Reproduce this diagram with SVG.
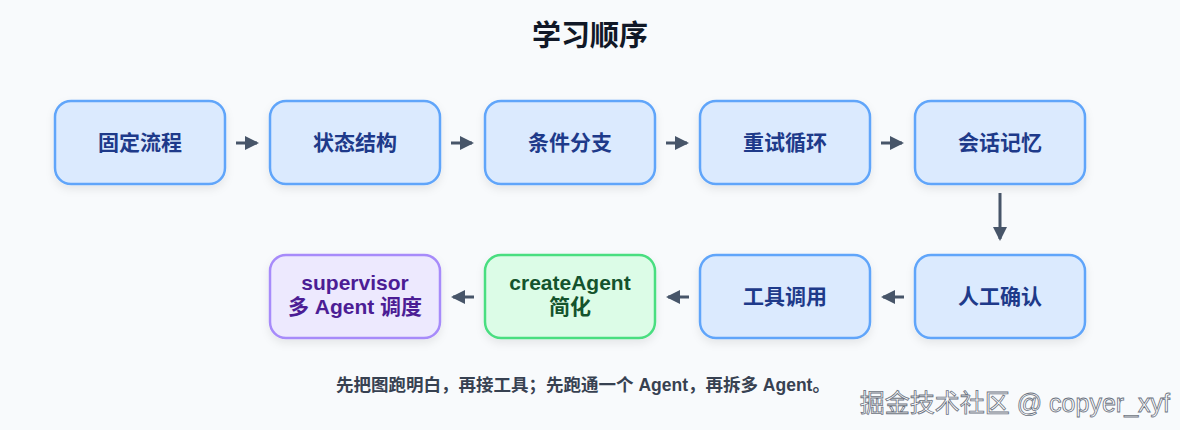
<svg xmlns="http://www.w3.org/2000/svg" width="1180" height="430" viewBox="0 0 1180 430">
<defs>
<style>
.t{font-family:"Liberation Sans","Noto Sans CJK SC",sans-serif;font-weight:bold;text-anchor:middle}
.b rect{fill:#dbeafe;stroke:#60a5fa;stroke-width:2.5}
.b text{fill:#1e3a8a;font-size:21px}
.g rect{fill:#dcfce7;stroke:#4ade80;stroke-width:2.5}
.g text{fill:#14532d;font-size:21px}
.p rect{fill:#ede9fe;stroke:#a78bfa;stroke-width:2.5}
.p text{fill:#4c1d95;font-size:21px}
.c line{stroke:#475569;stroke-width:3}
</style>
<marker id="a" markerWidth="14" markerHeight="14" refX="12" refY="7" orient="auto" markerUnits="userSpaceOnUse"><path d="M0,0 L14,7 L0,14 z" fill="#475569"/></marker>
<filter id="s" x="-20%" y="-20%" width="140%" height="150%"><feDropShadow dx="0" dy="4" stdDeviation="4" flood-color="#000" flood-opacity="0.08"/></filter>
</defs>
<rect width="1180" height="430" fill="#f8fafc"/>
<text class="t" x="590" y="46" font-size="29" fill="#111827">学习顺序</text>
<g id="n1" class="b"><rect x="55" y="101" width="170" height="83" rx="16" filter="url(#s)"/><text class="t" x="140" y="150">固定流程</text></g>
<g id="n2" class="b"><rect x="270" y="101" width="170" height="83" rx="16" filter="url(#s)"/><text class="t" x="355" y="150">状态结构</text></g>
<g id="n3" class="b"><rect x="485" y="101" width="170" height="83" rx="16" filter="url(#s)"/><text class="t" x="570" y="150">条件分支</text></g>
<g id="n4" class="b"><rect x="700" y="101" width="170" height="83" rx="16" filter="url(#s)"/><text class="t" x="785" y="150">重试循环</text></g>
<g id="n5" class="b"><rect x="915" y="101" width="170" height="83" rx="16" filter="url(#s)"/><text class="t" x="1000" y="150">会话记忆</text></g>
<g id="n6" class="b"><rect x="915" y="255" width="170" height="83" rx="16" filter="url(#s)"/><text class="t" x="1000" y="304">人工确认</text></g>
<g id="n7" class="b"><rect x="700" y="255" width="170" height="83" rx="16" filter="url(#s)"/><text class="t" x="785" y="304">工具调用</text></g>
<g id="n8" class="g"><rect x="485" y="255" width="170" height="83" rx="16" filter="url(#s)"/><text class="t" x="570" y="290">createAgent</text><text class="t" x="570" y="314">简化</text></g>
<g id="n9" class="p"><rect x="270" y="255" width="170" height="83" rx="16" filter="url(#s)"/><text class="t" x="355" y="290">supervisor</text><text class="t" x="355" y="314">多 Agent 调度</text></g>
<g id="connectors" class="c">
<line x1="236" y1="143" x2="257" y2="143" marker-end="url(#a)"/>
<line x1="451" y1="143" x2="472" y2="143" marker-end="url(#a)"/>
<line x1="666" y1="143" x2="687" y2="143" marker-end="url(#a)"/>
<line x1="881" y1="143" x2="902" y2="143" marker-end="url(#a)"/>
<line x1="1000" y1="193" x2="1000" y2="239" marker-end="url(#a)"/>
<line x1="904" y1="297" x2="883" y2="297" marker-end="url(#a)"/>
<line x1="689" y1="297" x2="668" y2="297" marker-end="url(#a)"/>
<line x1="474" y1="297" x2="453" y2="297" marker-end="url(#a)"/>
</g>
<text class="t" x="583" y="391" font-size="17.5" fill="#374151">先把图跑明白，再接工具；先跑通一个 Agent，再拆多 Agent。</text>
<text x="1170" y="412" font-family="Liberation Sans,Noto Sans CJK SC,sans-serif" font-size="25" fill="#ffffff" stroke="#6b7280" stroke-width="0.8" text-anchor="end">掘金技术社区 @ copyer_xyf</text>
</svg>
